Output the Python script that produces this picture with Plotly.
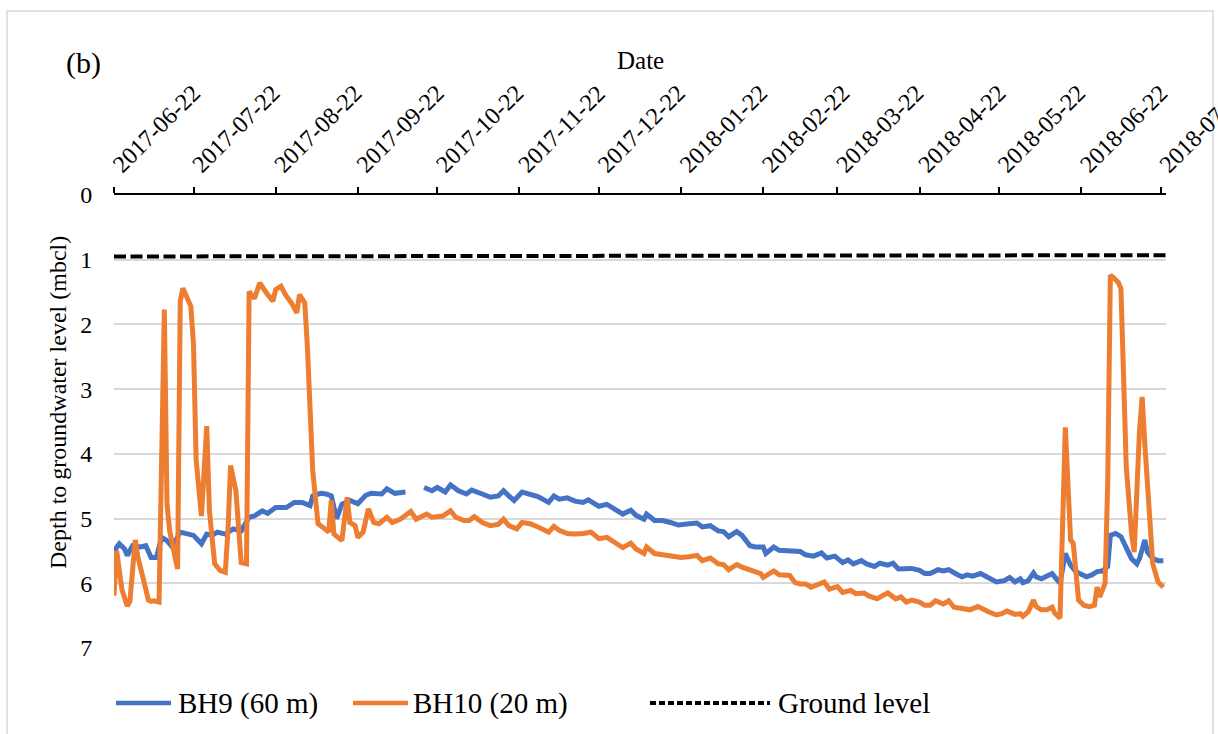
import pandas as pd
import plotly.graph_objects as go

# ---- Data -------------------------------------------------------------
START = "2017-06-22"          # first day of the monitoring record
END = "2018-07-24"            # last day shown on the date axis

# BH9 (60 m): days since START and depth to groundwater (m below collar)
bh9_day = [0, 2, 4, 5, 7, 10, 12, 14, 16, 18, 20, 22, 25, 28, 30, 33, 35, 37, 39, 42,
           45, 48, 51, 53, 56, 58, 61, 65, 68, 71, 74, 75, 78, 80, 82, 84, 86, 89, 92, 95,
           97, 101, 103, 106, 110, 114, 117, 120, 122, 125, 127, 130, 133, 135, 139, 142, 145, 147, 149, 151,
           154, 157, 160, 164, 166, 168, 171, 174, 177, 179, 183, 186, 189, 192, 195, 197, 200, 201, 204, 207,
           210, 213, 217, 220, 222, 225, 228, 230, 232, 235, 237, 240, 242, 245, 246, 249, 251, 255, 257, 259,
           261, 264, 267, 269, 272, 275, 277, 279, 282, 284, 287, 289, 292, 294, 296, 299, 301, 304, 306, 308,
           311, 313, 315, 318, 320, 322, 324, 327, 329, 332, 333, 336, 338, 340, 342, 343, 345, 347, 348, 350,
           352, 354, 356, 357, 359, 361, 363, 365, 367, 369, 371, 373, 375, 376, 378, 380, 382, 384, 386, 387,
           389, 390, 392, 394, 396]
bh9_depth = [5.50, 5.39, 5.47, 5.57, 5.42, 5.44, 5.42, 5.60, 5.60, 5.29, 5.34, 5.44, 5.21, 5.24, 5.26, 5.39, 5.24, 5.26, 5.21, 5.24,
             5.16, 5.19, 4.98, 4.96, 4.88, 4.92, 4.83, 4.83, 4.75, 4.75, 4.80, 4.65, 4.61, 4.62, 4.65, 5.00, 4.78, 4.72, 4.77, 4.64,
             4.61, 4.62, 4.54, 4.61, 4.59, None, 4.52, 4.57, 4.52, 4.59, 4.48, 4.57, 4.62, 4.56, 4.62, 4.67, 4.65, 4.57, 4.65, 4.72,
             4.59, 4.62, 4.66, 4.75, 4.65, 4.70, 4.68, 4.73, 4.75, 4.71, 4.81, 4.78, 4.85, 4.93, 4.87, 4.95, 5.01, 4.93, 5.03, 5.03,
             5.06, 5.10, 5.08, 5.07, 5.13, 5.11, 5.19, 5.20, 5.28, 5.20, 5.26, 5.42, 5.44, 5.44, 5.54, 5.44, 5.49, 5.50, 5.52, 5.51,
             5.56, 5.58, 5.53, 5.61, 5.58, 5.68, 5.64, 5.70, 5.65, 5.70, 5.74, 5.69, 5.72, 5.69, 5.78, 5.78, 5.77, 5.80, 5.85, 5.85,
             5.79, 5.81, 5.79, 5.86, 5.90, 5.87, 5.89, 5.85, 5.89, 5.94, 5.98, 5.96, 5.91, 5.98, 5.93, 5.99, 5.96, 5.84, 5.90, 5.93,
             5.90, 5.85, 5.95, 6.00, 5.54, 5.72, 5.82, 5.87, 5.90, 5.87, 5.82, 5.81, 5.74, 5.26, 5.23, 5.28, 5.46, 5.62, 5.70, 5.62,
             5.33, 5.52, 5.62, 5.65, 5.65]

# BH10 (20 m): days since START and depth to groundwater (m below collar)
bh10_day = [0, 1, 3, 5, 6, 8, 9, 11, 13, 14, 15, 17, 19, 20, 21, 24, 25, 26, 29, 30,
            31, 33, 35, 36, 38, 40, 42, 43, 44, 46, 48, 50, 51, 53, 55, 58, 60, 61, 63, 65,
            67, 69, 70, 72, 73, 75, 77, 79, 81, 82, 83, 86, 88, 89, 91, 92, 94, 96, 98, 100,
            103, 105, 108, 112, 114, 118, 120, 124, 127, 129, 132, 134, 136, 139, 142, 145, 147, 149, 152, 154,
            157, 160, 164, 166, 168, 171, 174, 177, 180, 183, 186, 189, 192, 195, 197, 200, 201, 204, 207, 211,
            214, 217, 220, 222, 225, 228, 230, 232, 235, 237, 240, 244, 245, 249, 251, 255, 257, 259, 261, 263,
            265, 268, 270, 273, 275, 278, 280, 283, 285, 288, 290, 292, 295, 297, 299, 301, 304, 306, 308, 310,
            313, 315, 317, 320, 321, 323, 326, 328, 330, 333, 335, 337, 340, 342, 343, 345, 347, 348, 350, 352,
            354, 355, 357, 359, 361, 362, 363, 364, 366, 368, 370, 371, 372, 374, 375, 376, 377, 379, 380, 382,
            384, 385, 387, 388, 389, 391, 392, 394, 396]
bh10_depth = [6.19, 5.50, 6.10, 6.35, 6.28, 5.33, 5.59, 5.95, 6.26, 6.28, 6.27, 6.29, 1.77, 4.78, 5.19, 5.78, 1.64, 1.44, 1.72, 2.31,
              4.10, 4.96, 3.57, 4.88, 5.70, 5.80, 5.83, 5.19, 4.18, 4.57, 5.68, 5.70, 1.49, 1.60, 1.36, 1.54, 1.64, 1.46, 1.41, 1.56,
              1.67, 1.82, 1.54, 1.67, 2.36, 4.26, 5.08, 5.14, 5.21, 4.72, 5.24, 5.34, 4.67, 5.06, 5.11, 5.29, 5.21, 4.85, 5.06, 5.08,
              4.98, 5.06, 5.01, 4.89, 5.01, 4.93, 4.98, 4.96, 4.88, 4.98, 5.03, 5.03, 4.97, 5.06, 5.11, 5.09, 5.01, 5.11, 5.16, 5.06,
              5.08, 5.13, 5.21, 5.12, 5.18, 5.23, 5.24, 5.23, 5.21, 5.31, 5.29, 5.37, 5.45, 5.38, 5.47, 5.54, 5.44, 5.54, 5.56, 5.59,
              5.60, 5.59, 5.57, 5.65, 5.61, 5.70, 5.71, 5.79, 5.71, 5.75, 5.80, 5.85, 5.91, 5.81, 5.87, 5.88, 5.99, 6.01, 6.01, 6.06,
              6.03, 5.98, 6.09, 6.05, 6.14, 6.11, 6.16, 6.15, 6.20, 6.24, 6.19, 6.15, 6.24, 6.21, 6.29, 6.26, 6.29, 6.34, 6.34, 6.27,
              6.32, 6.27, 6.37, 6.39, 6.39, 6.41, 6.36, 6.41, 6.44, 6.49, 6.47, 6.43, 6.48, 6.47, 6.51, 6.44, 6.26, 6.36, 6.41, 6.41,
              6.37, 6.46, 6.54, 3.59, 5.33, 5.38, 5.95, 6.26, 6.34, 6.36, 6.34, 6.06, 6.21, 6.00, 4.46, 1.24, 1.27, 1.35, 1.45, 4.20,
              5.23, 5.52, 3.64, 3.12, 3.84, 5.26, 5.70, 5.98, 6.06]

# Ground level reference (m below collar)
ground_day = [0, 397]
ground_depth = [0.95, 0.93]

# Date-axis tick labels (22nd of each month)
tick_dates = ["2017-06-22", "2017-07-22", "2017-08-22", "2017-09-22", "2017-10-22", "2017-11-22",
              "2017-12-22", "2018-01-22", "2018-02-22", "2018-03-22", "2018-04-22", "2018-05-22",
              "2018-06-22", "2018-07-22"]
depth_ticks = [0, 1, 2, 3, 4, 5, 6, 7]

# ---- Styling ------------------------------------------------------------
SERIF = "Liberation Serif, Times New Roman, serif"
BLUE = "#4472C4"
ORANGE = "#ED7D31"
GRID = "#D9D9D9"

W, H = 1218, 734
L, R, T, B = 114, 52, 195, 86
PW, PH = W - L - R, H - T - B


def to_dates(days):
    return pd.Timestamp(START) + pd.to_timedelta(days, unit="D")


def px(x):
    """Horizontal page pixel -> paper coordinate."""
    return (x - L) / PW


def py(y):
    """Vertical page pixel -> paper coordinate."""
    return (H - B - y) / PH


fig = go.Figure()

fig.add_trace(go.Scatter(
    x=to_dates(bh9_day), y=bh9_depth, name="BH9 (60 m)", mode="lines",
    line=dict(color=BLUE, width=5), connectgaps=False))
fig.add_trace(go.Scatter(
    x=to_dates(bh10_day), y=bh10_depth, name="BH10 (20 m)", mode="lines",
    line=dict(color=ORANGE, width=5)))
fig.add_trace(go.Scatter(
    x=to_dates(ground_day), y=ground_depth, name="Ground level", mode="lines",
    line=dict(color="black", width=4, dash="12px,4.5px")))

fig.update_layout(
    width=W, height=H,
    margin=dict(l=L, r=R, t=T, b=B, autoexpand=False),
    paper_bgcolor="white", plot_bgcolor="white",
    showlegend=False,
    font=dict(family=SERIF, size=24, color="black"),
    xaxis=dict(
        type="date", side="top",
        range=[START, END], automargin=False,
        tickvals=tick_dates, tickformat="%Y-%m-%d", tickangle=-45,
        ticklabeloverflow="allow",
        tickfont=dict(family=SERIF, size=24, color="black"),
        ticks="outside", ticklen=6, tickwidth=2, tickcolor="black",
        showline=True, linecolor="black", linewidth=2,
        showgrid=False, zeroline=False,
    ),
    yaxis=dict(
        range=[7, 0], automargin=False,
        tickvals=depth_ticks,
        tickfont=dict(family=SERIF, size=24, color="black"),
        ticks="outside", ticklen=16, tickcolor="rgba(0,0,0,0)",
        showgrid=True, gridcolor=GRID, gridwidth=1.5,
        showline=False, zeroline=False,
    ),
)

annotations = [
    dict(text="Date", x=px(640), y=py(60), xref="paper", yref="paper",
         xanchor="center", yanchor="middle",
         showarrow=False, font=dict(family=SERIF, size=25)),
    dict(text="(b)", x=px(83), y=py(63), xref="paper", yref="paper",
         xanchor="center", yanchor="middle",
         showarrow=False, font=dict(family=SERIF, size=30)),
    dict(text="Depth to groundwater level (mbcl)", x=px(58), y=py(403),
         xref="paper", yref="paper", textangle=-90, showarrow=False,
         xanchor="center", yanchor="middle",
         font=dict(family=SERIF, size=24)),
]

# Legend row under the plot
legend_y = py(703)
legend_items = [
    ("BH9 (60 m)", BLUE, "solid", 4.5, 116, 171, 176),
    ("BH10 (20 m)", ORANGE, "solid", 4.5, 353, 408, 411),
    ("Ground level", "black", "6px,3px", 4, 650, 770, 776),
]
shapes = []
for label, color, dash, width, x0, x1, xt in legend_items:
    shapes.append(dict(type="line", xref="paper", yref="paper",
                       x0=px(x0), x1=px(x1), y0=legend_y, y1=legend_y,
                       line=dict(color=color, width=width, dash=dash)))
    annotations.append(dict(text=label, x=px(xt), y=legend_y, xref="paper", yref="paper",
                            xanchor="left", yanchor="middle", showarrow=False,
                            font=dict(family=SERIF, size=29)))

# Chart-area frame
shapes.append(dict(type="rect", xref="paper", yref="paper",
                   x0=px(7), x1=px(1213), y0=py(745), y1=py(11),
                   line=dict(color=GRID, width=1.5), layer="below"))

fig.update_layout(annotations=annotations, shapes=shapes)

fig.write_html("out.html")
